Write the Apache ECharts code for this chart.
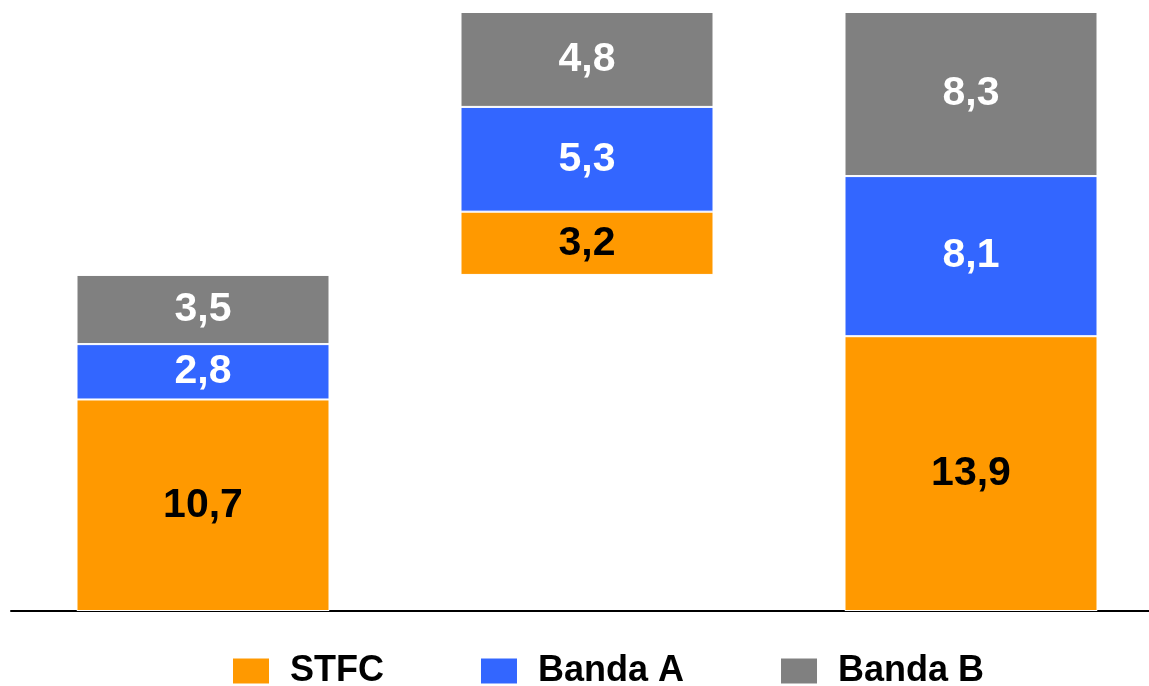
<!DOCTYPE html>
<html>
<head>
<meta charset="utf-8">
<script src="https://cdn.jsdelivr.net/npm/echarts@6/dist/echarts.min.js"></script>
<style>
  html, body { margin: 0; padding: 0; background: #fff; overflow: hidden; }
  /* a bit wider than the window so the third band reaches past the right edge */
  #main { width: 1163px; height: 686px; }
</style>
</head>
<body>
<div id="main"></div>
<script>
// data
var categories = ['1', '2', '3'];
var base = [0, 17.0, 0];          // invisible offset, bar 2 starts where bar 1 ends
var stfc = [10.7, 3.2, 13.9];
var bandaA = [2.8, 5.3, 8.1];
var bandaB = [3.5, 4.8, 8.3];

var fmt = function (p) { return p.value.toFixed(1).replace('.', ','); };
var font = 'Liberation Sans, Arial, sans-serif';

function seg(name, data, color, txt) {
  return {
    name: name,
    type: 'bar',
    stack: 'all',
    barWidth: 253,
    data: data,
    itemStyle: { color: color, borderColor: '#fff', borderWidth: 1 },
    label: {
      show: true,
      position: 'inside',
      formatter: fmt,
      color: txt,
      fontSize: 41,
      fontWeight: 'bold',
      fontFamily: font
    }
  };
}

var chart = echarts.init(document.getElementById('main'));
var option = {
  animation: false,
  grid: { left: 11, right: 0, top: 12, bottom: 75 },
  legend: {
    data: ['STFC', 'Banda A', 'Banda B'],
    left: 231,
    bottom: -3,
    padding: 0,
    itemWidth: 38,
    itemHeight: 27,
    itemGap: 95,
    icon: 'rect',
    textStyle: { fontSize: 36, fontWeight: 'bold', color: '#000', fontFamily: font, padding: [0, 0, 0, 15] }
  },
  xAxis: {
    type: 'category',
    data: categories,
    axisLine: { lineStyle: { color: '#000', width: 2 } },
    axisTick: { show: false },
    axisLabel: { show: false }
  },
  yAxis: {
    type: 'value',
    min: 0,
    max: 30.3,
    show: false,
    splitLine: { show: false }
  },
  series: [
    {
      name: 'base',
      type: 'bar',
      stack: 'all',
      barWidth: 253,
      data: base,
      itemStyle: { color: 'transparent' },
      silent: true
    },
    seg('STFC', stfc, '#FF9900', '#000'),
    seg('Banda A', bandaA, '#3366FF', '#fff'),
    seg('Banda B', bandaB, '#808080', '#fff')
  ]
};
chart.setOption(option);
</script>
</body>
</html>
